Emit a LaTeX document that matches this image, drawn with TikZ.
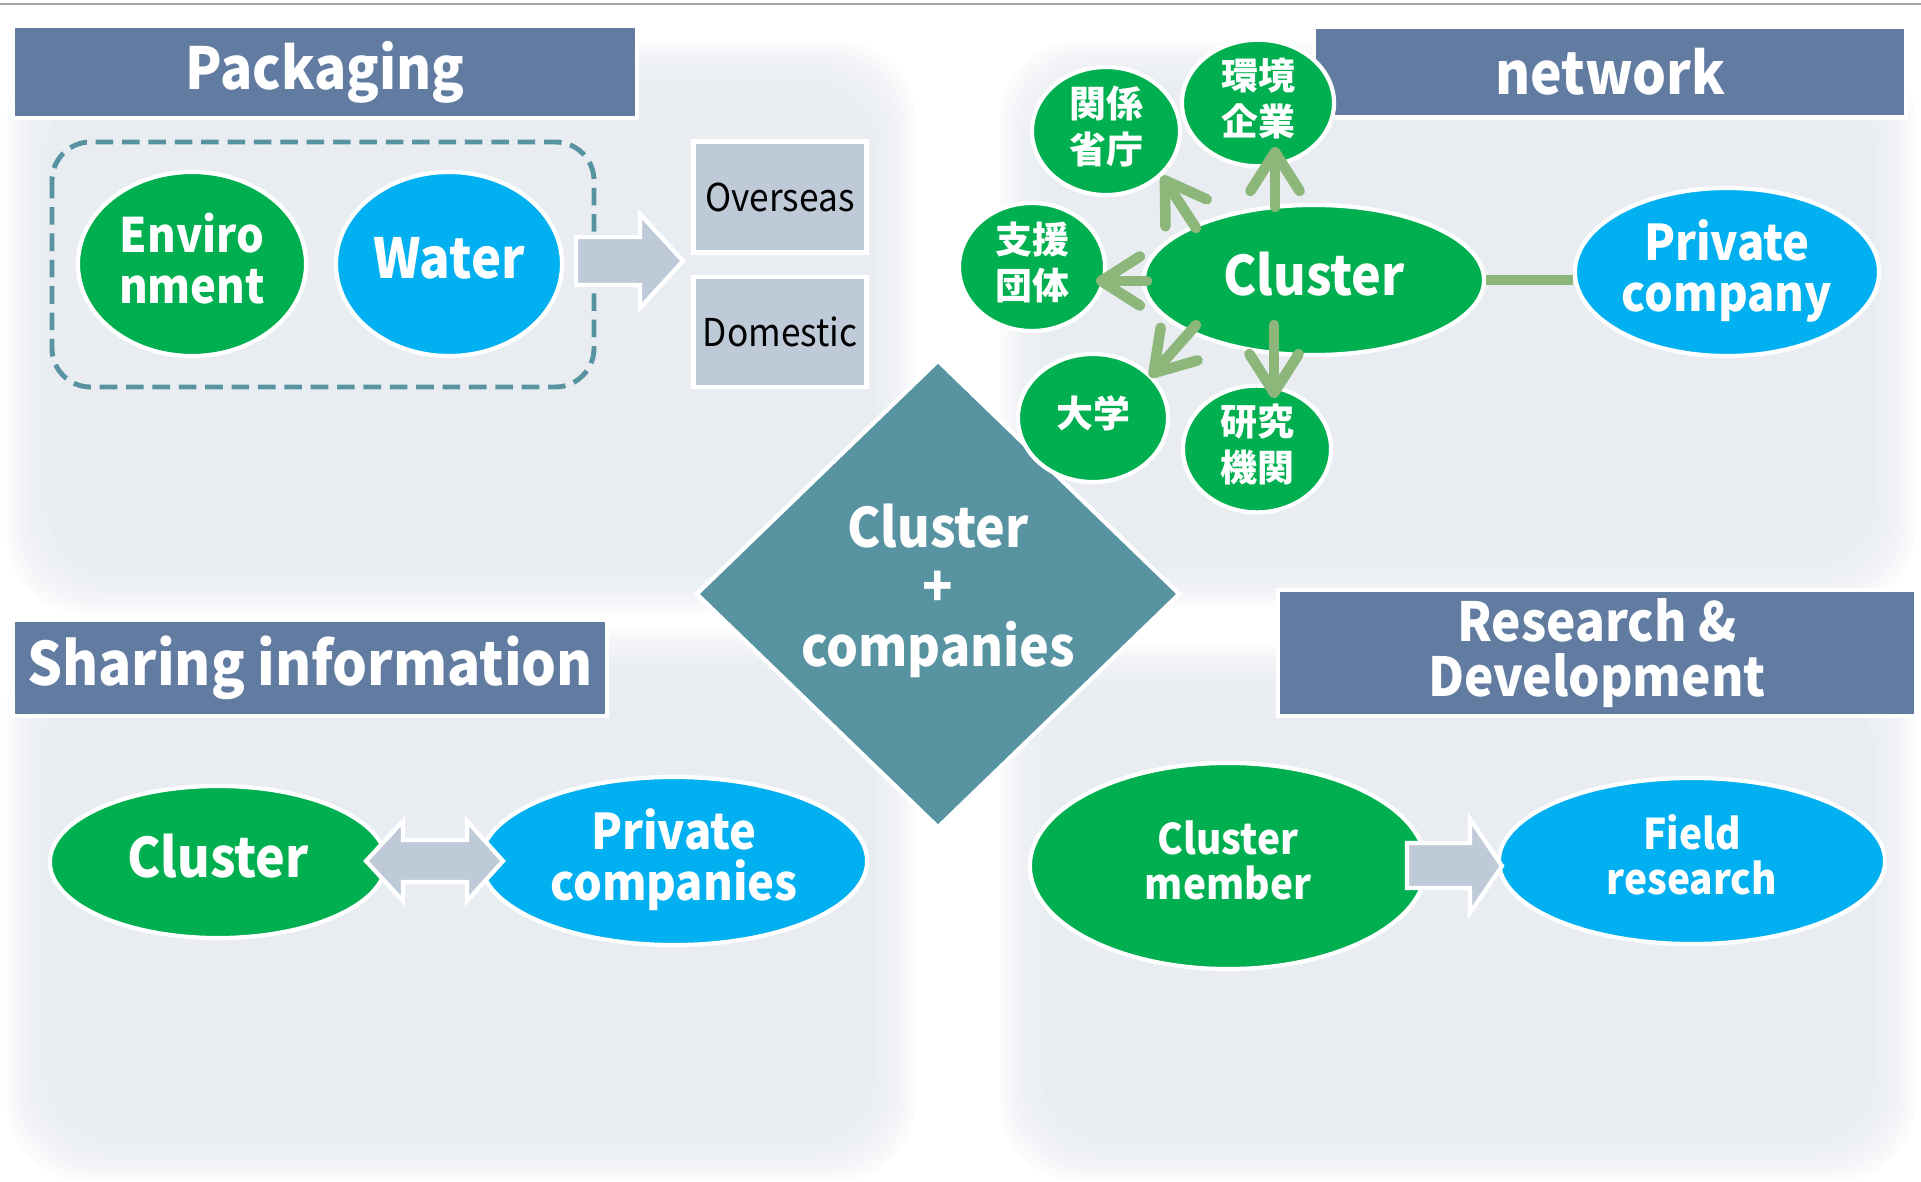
\documentclass[tikz,border=0pt]{standalone}
\usepackage{fontspec}
\setmainfont{Noto Sans CJK JP}[FakeStretch=0.92]
\newfontfamily\jpfont{Noto Sans CJK JP}
\usetikzlibrary{shapes.geometric,arrows.meta}
\definecolor{headblue}{HTML}{627CA1}
\definecolor{pgreen}{HTML}{00B050}
\definecolor{pblue}{HTML}{00B0F0}
\definecolor{coreteal}{HTML}{5893A1}
\definecolor{boxgray}{HTML}{BFCAD9}
\definecolor{panelgray}{HTML}{E9EDF2}
\definecolor{linkgreen}{HTML}{8DB67B}
\tikzset{
  header/.style={fill=headblue, draw=white, line width=1.2pt, text=white, inner sep=0pt,
    align=center, font=\bfseries\fontsize{16.5}{17}\selectfont},
  bubble/.style={ellipse, draw=white, line width=1.2pt, text=white, inner sep=0pt,
    align=center, text depth=3.5pt, font=\bfseries\fontsize{14}{14.5}\selectfont},
  green bubble/.style={bubble, fill=pgreen},
  blue bubble/.style={bubble, fill=pblue},
  kanji/.style={bubble, fill=pgreen, font=\jpfont\bfseries\fontsize{10.5}{13}\selectfont},
  market/.style={fill=boxgray, draw=white, line width=1.2pt, inner sep=0pt,
    font=\fontsize{10.9}{12}\selectfont},
  flowarrow/.style={fill=boxgray, draw=white, line width=1.2pt},
  link/.style={draw=linkgreen, line width=3pt},
  spoke/.style={link, line cap=round, -{Straight Barb[length=11pt,width=14pt,round]}}
}
\newcommand{\softpanel}[4]{%
  \foreach \d in {20,15,...,-15}
    \fill[panelgray, fill opacity=0.2, rounded corners=22pt]
      ({#1-\d},{#2-\d}) rectangle ({#3+\d},{#4+\d});
  \fill[panelgray, rounded corners=20pt] ({#1+20},{#2+20}) rectangle ({#3-20},{#4-20});}

\begin{document}
\begin{tikzpicture}[x=0.01cm, y=-0.01cm]
\useasboundingbox (0,0) rectangle (1921,1182);
\fill[white] (0,0) rectangle (1921,1182);
\draw[gray!70, line width=0.8pt] (0,4) -- (1921,4);
\softpanel{27}{62}{895}{593}
\softpanel{1020}{62}{1895}{587}
\softpanel{27}{650}{895}{1160}
\softpanel{1020}{665}{1895}{1160}

\node[header, minimum width=6.24cm, minimum height=0.92cm] (pack) at (325,72) {Packaging};
\node[header, minimum width=5.92cm, minimum height=0.91cm] (net) at (1610,72) {network};
\node[header, minimum width=5.93cm, minimum height=0.96cm, font=\bfseries\fontsize{17}{17}\selectfont] (share) at (310,668) {Sharing information};
\node[header, minimum width=6.37cm, minimum height=1.26cm, font=\bfseries\fontsize{15.3}{15.6}\selectfont] (rnd) at (1597,653) {Research \&\\Development};

\draw[coreteal, line width=1.4pt, dash pattern=on 5pt off 2.5pt, rounded corners=11pt] (52,142) rectangle (594,387);
\node[green bubble, minimum width=2.28cm, minimum height=1.84cm, font=\bfseries\fontsize{13.5}{14.5}\selectfont] (env) at (192,264) {Enviro\\nment};
\node[blue bubble, minimum width=2.26cm, minimum height=1.84cm, font=\bfseries\fontsize{15.7}{16}\selectfont] (wat) at (449,264) {Water};
\filldraw[flowarrow] (576,237) -- (640,237) -- (640,214) -- (683,261) -- (640,308) -- (640,285) -- (576,285) -- cycle;
\node[market, minimum width=1.73cm, minimum height=1.11cm] (ovs) at (780,197) {Overseas};
\node[market, minimum width=1.73cm, minimum height=1.10cm] (dom) at (780,332) {Domestic};

\node[diamond, fill=coreteal, draw=white, line width=1.2pt, minimum width=4.84cm, minimum height=4.68cm,
  inner sep=0pt, text=white, align=center, text depth=5pt, font=\bfseries\fontsize{15.5}{17}\selectfont] (core) at (938,594) {Cluster\\+\\companies};

\node[green bubble, minimum width=3.4cm, minimum height=1.5cm, font=\bfseries\fontsize{15.5}{16}\selectfont] (ncl) at (1314,280) {Cluster};
\node[kanji, minimum width=1.48cm, minimum height=1.28cm] (gov) at (1106,131) {関係\\省庁};
\node[kanji, minimum width=1.52cm, minimum height=1.24cm] (eco) at (1258,103) {環境\\企業};
\node[kanji, minimum width=1.46cm, minimum height=1.28cm] (sup) at (1032,267) {支援\\団体};
\node[kanji, minimum width=1.50cm, minimum height=1.28cm] (uni) at (1093,418) {大学};
\node[kanji, minimum width=1.48cm, minimum height=1.24cm] (lab) at (1257,449) {研究\\機関};
\node[blue bubble, minimum width=3.04cm, minimum height=1.68cm] (npc) at (1727,272) {Private\\company};
\draw[link] (ncl.east) -- (ncl.east -| npc.west);
\draw[spoke] ([shift={(-39,-73)}]ncl.center) -- ([shift={(17,44)}]eco.center);
\draw[spoke] ([shift={(-118,-52)}]ncl.center) -- ([shift={(56,45)}]gov.center);
\draw[spoke] ([shift={(-167,1)}]ncl.center) -- ([shift={(64,14)}]sup.center);
\draw[spoke] ([shift={(-118,45)}]ncl.center) -- ([shift={(57,-41)}]uni.center);
\draw[spoke] ([shift={(-40,45)}]ncl.center) -- ([shift={(17,-51)}]lab.center);

\node[green bubble, minimum width=3.36cm, minimum height=1.52cm, font=\bfseries\fontsize{15.5}{16}\selectfont] (scl) at (218,862) {Cluster};
\node[blue bubble, minimum width=3.86cm, minimum height=1.68cm] (spc) at (674,861) {Private\\companies};
\filldraw[flowarrow] (366,861) -- (403,821) -- (403,840) -- (467,840) -- (467,821) -- (503,861)
  -- (467,901) -- (467,882) -- (403,882) -- (403,901) -- cycle;

\node[green bubble, minimum width=3.96cm, minimum height=2.06cm, font=\bfseries\fontsize{12}{12.8}\selectfont] (rcm) at (1228,866) {Cluster\\member};
\node[blue bubble, minimum width=3.86cm, minimum height=1.66cm, font=\bfseries\fontsize{12}{12.8}\selectfont] (rfr) at (1692,861) {Field\\research};
\filldraw[flowarrow] (1407,843) -- (1470,843) -- (1470,819) -- (1502,866) -- (1470,913) -- (1470,888) -- (1407,888) -- cycle;
\end{tikzpicture}
\end{document}
